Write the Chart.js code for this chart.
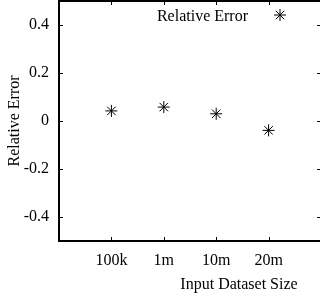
<!DOCTYPE html>
<html>
<head>
<meta charset="utf-8">
<script src="https://cdn.jsdelivr.net/npm/chart.js@4/dist/chart.umd.min.js"></script>
<style>
  html, body { margin: 0; padding: 0; background: #fff; overflow: hidden; }
  #wrap { width: 322px; height: 302px; }
</style>
</head>
<body>
<div id="wrap"><canvas id="chart" width="322" height="302"></canvas></div>
<script>
// data
const sizes = ['', '100k', '1m', '10m', '20m', ''];
const relError = [null, 0.042, 0.058, 0.030, -0.039, null];
const yTicks = [-0.4, -0.2, 0, 0.2, 0.4];
const seriesName = 'Relative Error';
const xTitle = 'Input Dataset Size';
const yTitle = 'Relative Error';

const FONT = 'Liberation Serif';

const drawStar = (ctx, x, y, r) => {
  const d = r * Math.SQRT1_2;
  ctx.beginPath();
  ctx.moveTo(x - r, y); ctx.lineTo(x + r, y);
  ctx.moveTo(x, y - r); ctx.lineTo(x, y + r);
  ctx.moveTo(x - d, y - d); ctx.lineTo(x + d, y + d);
  ctx.moveTo(x - d, y + d); ctx.lineTo(x + d, y - d);
  ctx.stroke();
};

// gnuplot style frame: top border, inward mirrored ticks, key, x label
const frame = {
  id: 'frame',
  afterDraw(chart) {
    const ctx = chart.ctx;
    const area = chart.chartArea;
    const xs = chart.scales.x;
    const ys = chart.scales.y;
    const t = 4;
    ctx.save();
    ctx.strokeStyle = '#000';
    ctx.lineWidth = 2;
    ctx.beginPath();
    ctx.moveTo(area.left, area.top);
    ctx.lineTo(area.right, area.top);
    ctx.stroke();

    ctx.lineWidth = 1;
    ctx.beginPath();
    xs.ticks.forEach((tk, i) => {
      if (!sizes[i]) return;
      const px = Math.round(xs.getPixelForTick(i)) + 0.5;
      ctx.moveTo(px, area.bottom); ctx.lineTo(px, area.bottom - t);
      ctx.moveTo(px, area.top); ctx.lineTo(px, area.top + t);
    });
    yTicks.forEach(v => {
      const py = Math.round(ys.getPixelForValue(v)) + 0.5;
      ctx.moveTo(area.left, py); ctx.lineTo(area.left + t, py);
      ctx.moveTo(area.right, py); ctx.lineTo(area.right - t, py);
    });
    ctx.stroke();

    // key
    ctx.fillStyle = '#000';
    ctx.font = '16px "' + FONT + '"';
    ctx.textAlign = 'right';
    ctx.textBaseline = 'alphabetic';
    ctx.fillText(seriesName, area.right - 73, 20.5);
    drawStar(ctx, area.right - 41, 15, 6);

    // x label
    ctx.textAlign = 'center';
    ctx.fillText(xTitle, 239, 289);
    ctx.restore();
  }
};

new Chart(document.getElementById('chart'), {
  type: 'line',
  data: {
    labels: sizes,
    datasets: [{
      label: seriesName,
      data: relError,
      showLine: false,
      clip: false,
      pointStyle: 'star',
      pointRadius: 6,
      pointHoverRadius: 6,
      pointBorderWidth: 1,
      borderColor: '#000',
      backgroundColor: '#000'
    }]
  },
  options: {
    responsive: false,
    animation: false,
    events: [],
    layout: { autoPadding: false, padding: { top: 1, right: 1, bottom: 0, left: 0 } },
    plugins: { legend: { display: false }, tooltip: { enabled: false } },
    scales: {
      x: {
        type: 'category',
        offset: false,
        grid: { drawOnChartArea: false, drawTicks: false },
        border: { color: '#000', width: 2 },
        ticks: {
          color: '#000',
          padding: 10,
          maxRotation: 0,
          autoSkip: false,
          font: { family: FONT, size: 16 }
        },
        afterFit(scale) {
          scale.height = 61;
          scale.paddingLeft = 0;
          scale.paddingRight = 0;
        }
      },
      y: {
        min: -0.5,
        max: 0.5,
        grid: { drawOnChartArea: false, drawTicks: false },
        border: { color: '#000', width: 2 },
        afterBuildTicks(scale) {
          scale.ticks = yTicks.map(v => ({ value: v }));
        },
        ticks: {
          color: '#000',
          padding: 10,
          font: { family: FONT, size: 16 },
          callback: v => String(v)
        },
        title: {
          display: true,
          text: yTitle,
          color: '#000',
          padding: { top: 5, bottom: 0 },
          font: { family: FONT, size: 16 }
        },
        afterFit(scale) {
          scale.width = 59;
          scale.paddingTop = 0;
          scale.paddingBottom = 0;
        }
      }
    }
  },
  plugins: [frame]
});
</script>
</body>
</html>
